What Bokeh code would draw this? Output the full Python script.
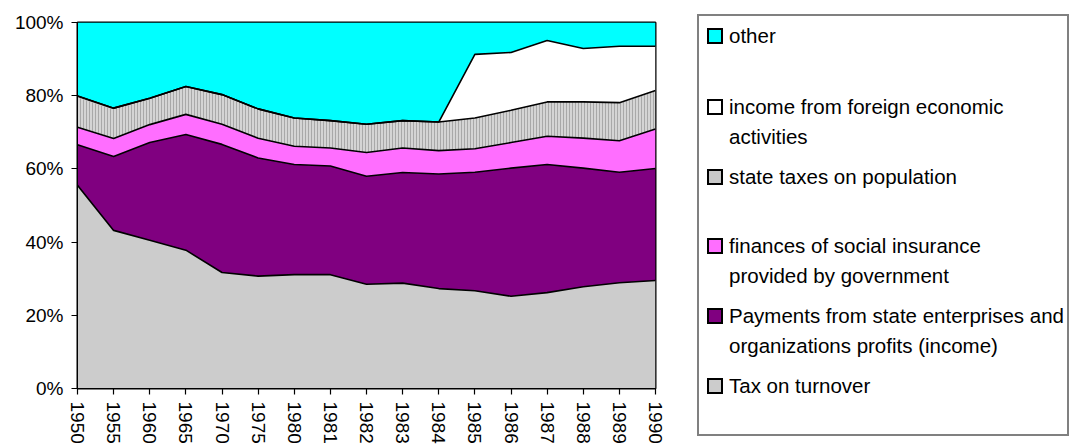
from bokeh.plotting import figure
from bokeh.models import ColumnDataSource, Range1d, FixedTicker, Div
from bokeh.layouts import row
from bokeh.transform import stack
from bokeh.embed import file_html
from bokeh.resources import INLINE

years = ["1950", "1955", "1960", "1965", "1970", "1975", "1980", "1981", "1982",
         "1983", "1984", "1985", "1986", "1987", "1988", "1989", "1990"]

tax_on_turnover = [55.5, 43.2, 40.5, 37.8, 31.7, 30.7, 31.1, 31.1, 28.5,
                   28.8, 27.3, 26.7, 25.2, 26.2, 27.8, 28.9, 29.5]
payments = [11.1, 20.2, 26.7, 31.6, 35.0, 32.3, 30.1, 29.7, 29.5,
            30.2, 31.3, 32.4, 35.0, 35.0, 32.4, 30.2, 30.6]
social_insurance = [4.8, 4.9, 4.9, 5.5, 5.5, 5.4, 5.0, 4.9, 6.5,
                    6.7, 6.4, 6.4, 7.0, 7.7, 8.2, 8.6, 10.8]
state_taxes = [8.5, 8.3, 7.2, 7.6, 8.1, 8.0, 7.7, 7.5, 7.7,
               7.5, 7.8, 8.4, 8.8, 9.4, 9.9, 10.4, 10.5]
foreign_income = [0, 0, 0, 0, 0, 0, 0, 0, 0,
                  0, 0, 17.4, 15.8, 16.8, 14.6, 15.4, 12.1]
other = [20.1, 23.4, 20.7, 17.5, 19.7, 23.6, 26.1, 26.8, 27.8,
         26.8, 27.2, 8.7, 8.2, 4.9, 7.1, 6.5, 6.5]

y_ticks = [0, 20, 40, 60, 80, 100]
y_tick_labels = ["0%", "20%", "40%", "60%", "80%", "100%"]

series_keys = ["tax", "pay", "soc", "state", "foreign", "other"]
series_colors = ["#CCCCCC", "#800080", "#FF6EFF", "#D4D4D4", "#FFFFFF", "#00FFFF"]

legend_labels = [
    ["other"],
    ["income from foreign economic", "activities"],
    ["state taxes on population"],
    ["finances of social insurance", "provided by government"],
    ["Payments from state enterprises and", "organizations profits (income)"],
    ["Tax on turnover"],
]
legend_colors = ["#00FFFF", "#FFFFFF", "#C8C8C8", "#FF6EFF", "#800080", "#CCCCCC"]

FONT = "Liberation Sans"
H = 447

x_idx = list(range(len(years)))
source = ColumnDataSource(dict(
    x=x_idx, tax=tax_on_turnover, pay=payments, soc=social_insurance,
    state=state_taxes, foreign=foreign_income, other=other))

p = figure(width=697, height=H, output_backend="svg", toolbar_location=None,
           x_range=Range1d(0, len(years) - 1), y_range=Range1d(0, 100),
           min_border_left=77, min_border_right=42, min_border_top=22,
           min_border_bottom=59)
p.grid.visible = False
p.outline_line_color = "black"
p.outline_line_width = 2
p.background_fill_color = "white"

for i, key in enumerate(series_keys):
    kw = {}
    if key == "state":
        kw = dict(hatch_pattern="vertical_line", hatch_color="#A8A8A8",
                  hatch_scale=3, hatch_weight=1)
    p.varea(x="x", y1=stack(*series_keys[:i]) if i > 0 else 0,
            y2=stack(*series_keys[:i + 1]), source=source,
            fill_color=series_colors[i], **kw)

for i in range(len(series_keys) - 1):
    p.line(x="x", y=stack(*series_keys[:i + 1]), source=source,
           line_color="black", line_width=1.6)

p.xaxis.ticker = FixedTicker(ticks=x_idx)
p.xaxis.major_label_overrides = {i: y for i, y in enumerate(years)}
p.xaxis.major_label_orientation = "vertical"
p.yaxis.ticker = FixedTicker(ticks=y_ticks)
p.yaxis.major_label_overrides = {t: l for t, l in zip(y_ticks, y_tick_labels)}
for ax in (p.xaxis, p.yaxis):
    ax.minor_tick_line_color = None
    ax.major_tick_in = 0
    ax.major_tick_out = 6
    ax.major_tick_line_color = "black"
    ax.major_tick_line_width = 1.2
    ax.axis_line_color = "black"
    ax.major_label_text_font = FONT
    ax.major_label_text_font_size = "19px"
    ax.major_label_text_color = "black"
p.xaxis.major_label_standoff = 7
p.yaxis.major_label_standoff = 8

# ---- legend panel (HTML, positioned in pixels) ----
LEG_W = 374
sq_y = [36, 107, 177, 246, 316, 386]
line_gap = 29.5
parts = [
    f'<div style="position:relative;width:{LEG_W}px;height:{H}px;'
    f'font-family:\'{FONT}\';font-size:20.5px;color:#000;">',
    '<div style="position:absolute;left:0px;top:14px;width:372px;height:422px;'
    'box-sizing:border-box;border:2px solid #808080;"></div>',
]
for yc, labels, col in zip(sq_y, legend_labels, legend_colors):
    parts.append(
        f'<div style="position:absolute;left:10px;top:{yc - 8}px;width:16px;'
        f'height:16px;box-sizing:border-box;border:2px solid #000;'
        f'background:{col};"></div>')
    for j, t in enumerate(labels):
        top = yc + j * line_gap - 12
        parts.append(
            f'<div style="position:absolute;left:32px;top:{top}px;height:24px;'
            f'line-height:24px;white-space:nowrap;">{t}</div>')
parts.append('</div>')
legend_div = Div(text="".join(parts), width=LEG_W, height=H, margin=0)

layout = row(p, legend_div)
open("out.html", "w").write(file_html(layout, INLINE))
